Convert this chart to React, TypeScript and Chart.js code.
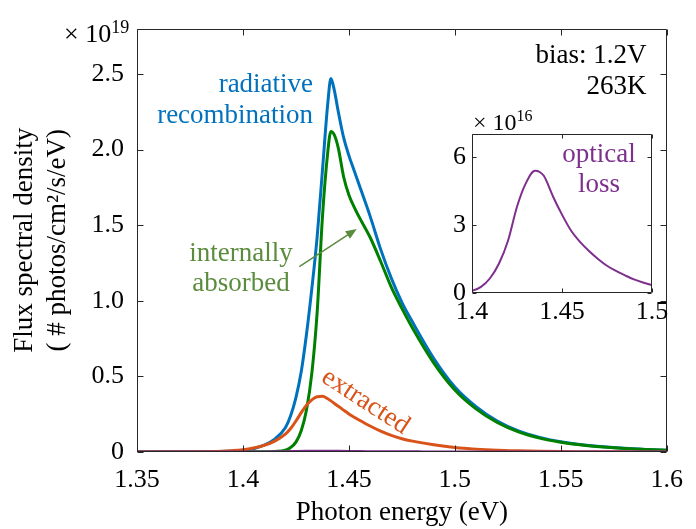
import React, { useEffect, useRef } from "react";
import { Chart, registerables } from "chart.js";

Chart.register(...registerables);

const FONT = "'Liberation Serif'";
const AXIS = "#262626";

// ---------- data (main plot, ×10^19 photons/cm²/s/eV) ----------
const energy = [
  1.35, 1.37, 1.39, 1.4, 1.405, 1.41, 1.415, 1.42, 1.4225, 1.425, 1.4275, 1.43,
  1.4325, 1.435, 1.4375, 1.44, 1.4415, 1.443, 1.445, 1.4475, 1.45, 1.4525, 1.455,
  1.46, 1.465, 1.47, 1.475, 1.48, 1.49, 1.5, 1.51, 1.52, 1.53, 1.54, 1.55, 1.56,
  1.57, 1.58, 1.59, 1.6,
];
const radiative = [
  0.0, 0.001, 0.004, 0.01, 0.022, 0.045, 0.085, 0.16, 0.24, 0.36, 0.53, 0.78,
  1.08, 1.42, 1.86, 2.3, 2.47, 2.4, 2.25, 2.08, 1.96, 1.86, 1.76,
  1.56, 1.34, 1.15, 0.99, 0.86, 0.62, 0.43, 0.3, 0.205, 0.14, 0.097, 0.068, 0.048,
  0.034, 0.024, 0.017, 0.012,
];
const absorbed = [
  0.0, 0.0, 0.0, 0.0, 0.001, 0.002, 0.004, 0.012, 0.03, 0.065, 0.14, 0.28,
  0.52, 0.92, 1.55, 1.98, 2.12, 2.1, 2.01, 1.82, 1.7, 1.62, 1.55,
  1.42, 1.26, 1.09, 0.95, 0.82, 0.59, 0.41, 0.285, 0.195, 0.133, 0.092, 0.065, 0.046,
  0.033, 0.023, 0.016, 0.011,
];
const extracted = [
  0.0, 0.001, 0.005, 0.015, 0.026, 0.044, 0.072, 0.118, 0.155, 0.205, 0.26, 0.31,
  0.345, 0.366, 0.368, 0.352, 0.338, 0.323, 0.303, 0.277, 0.252, 0.23, 0.21,
  0.172, 0.138, 0.11, 0.088, 0.072, 0.048, 0.03, 0.019, 0.012, 0.008, 0.005, 0.003, 0.002,
  0.001, 0.001, 0.0, 0.0,
];

// ---------- data (optical loss, ×10^16) ----------
const lossEnergy = [
  1.35, 1.38, 1.39, 1.4, 1.405, 1.41, 1.415, 1.42, 1.425, 1.43, 1.435, 1.4375,
  1.44, 1.445, 1.45, 1.455, 1.46, 1.465, 1.47, 1.475, 1.48, 1.485, 1.49, 1.495,
  1.5, 1.52, 1.55, 1.6,
];
const opticalLoss = [
  0.0, 0.02, 0.05, 0.1, 0.27, 0.65, 1.3, 2.3, 3.8, 4.85, 5.38, 5.33,
  5.15, 4.25, 3.45, 2.75, 2.25, 1.85, 1.5, 1.2, 0.97, 0.78, 0.6, 0.46,
  0.35, 0.15, 0.05, 0.01,
];

// ---------- ticks ----------
const xTicks = [1.35, 1.4, 1.45, 1.5, 1.55, 1.6];
const xTickLabels = ["1.35", "1.4", "1.45", "1.5", "1.55", "1.6"];
const yTicks = [0, 0.5, 1.0, 1.5, 2.0, 2.5];
const yTickLabels = ["0", "0.5", "1.0", "1.5", "2.0", "2.5"];
const insetXTicks = [1.4, 1.45, 1.5];
const insetXTickLabels = ["1.4", "1.45", "1.5"];
const insetYTicks = [0, 3, 6];
const insetYTickLabels = ["0", "3", "6"];

const COLORS = {
  radiative: "#0072BD",
  absorbed: "#008000",
  absorbedText: "#5B8C3E",
  extracted: "#D95319",
  loss: "#7E2F8E",
};

function pts(xs: number[], ys: number[], k = 1) {
  return xs.map((x, i) => ({ x, y: ys[i] * k }));
}

function framePlugin(xt: number[], yt: number[], tickLen: number) {
  return {
    id: "frame",
    afterDatasetsDraw(chart: any) {
      const { ctx, chartArea: a, scales } = chart;
      ctx.save();
      ctx.strokeStyle = AXIS;
      ctx.lineWidth = 1;
      const L = Math.round(a.left) + 0.5;
      const R = Math.round(a.right) - 0.5;
      const T = Math.round(a.top) + 0.5;
      const B = Math.round(a.bottom) - 0.5;
      ctx.beginPath();
      ctx.rect(L, T, R - L, B - T);
      for (const v of xt) {
        const px = Math.round(scales.x.getPixelForValue(v)) + 0.5;
        ctx.moveTo(px, B);
        ctx.lineTo(px, B - tickLen);
        ctx.moveTo(px, T);
        ctx.lineTo(px, T + tickLen);
      }
      for (const v of yt) {
        const py = Math.round(scales.y.getPixelForValue(v)) + 0.5;
        ctx.moveTo(L, py);
        ctx.lineTo(L + tickLen, py);
        ctx.moveTo(R, py);
        ctx.lineTo(R - tickLen, py);
      }
      ctx.stroke();
      ctx.restore();
    },
  };
}

function drawExponent(ctx: CanvasRenderingContext2D, x: number, y: number, exp: string, size: number) {
  ctx.save();
  ctx.fillStyle = "#000";
  ctx.textBaseline = "middle";
  ctx.textAlign = "left";
  ctx.font = `${size}px ${FONT}`;
  ctx.fillText("×", x, y);
  let cx = x + ctx.measureText("× ").width;
  ctx.fillText("10", cx, y);
  cx += ctx.measureText("10").width;
  ctx.font = `${Math.round(size * 0.68)}px ${FONT}`;
  ctx.fillText(exp, cx, y - size * 0.3);
  ctx.restore();
}

const mainAnnotations = {
  id: "mainAnnotations",
  afterDraw(chart: any) {
    const { ctx, chartArea: a, scales } = chart;
    const X = (v: number) => scales.x.getPixelForValue(v);
    const Y = (v: number) => scales.y.getPixelForValue(v);
    drawExponent(ctx, a.left - 73, a.top + 7, "19", 26);
    ctx.save();
    ctx.textBaseline = "middle";
    ctx.font = `27px ${FONT}`;
    ctx.fillStyle = "#000";
    ctx.textAlign = "right";
    ctx.fillText("bias: 1.2V", X(1.5904), Y(2.618));
    ctx.fillText("263K", X(1.5904), Y(2.414));
    ctx.fillStyle = COLORS.radiative;
    ctx.fillText("radiative", X(1.4331), Y(2.427));
    ctx.fillText("recombination", X(1.4331), Y(2.222));
    ctx.fillStyle = COLORS.absorbedText;
    ctx.textAlign = "center";
    ctx.fillText("internally", X(1.3991), Y(1.309));
    ctx.fillText("absorbed", X(1.3991), Y(1.111));
    const x0 = X(1.4266), y0 = Y(1.226), x1 = X(1.4537), y1 = Y(1.475);
    const ang = Math.atan2(y1 - y0, x1 - x0);
    ctx.strokeStyle = COLORS.absorbedText;
    ctx.lineWidth = 1.5;
    ctx.beginPath();
    ctx.moveTo(x0, y0);
    ctx.lineTo(x1 - 8 * Math.cos(ang), y1 - 8 * Math.sin(ang));
    ctx.stroke();
    ctx.beginPath();
    ctx.moveTo(x1, y1);
    ctx.lineTo(x1 - 11 * Math.cos(ang) + 4.5 * Math.sin(ang), y1 - 11 * Math.sin(ang) - 4.5 * Math.cos(ang));
    ctx.lineTo(x1 - 11 * Math.cos(ang) - 4.5 * Math.sin(ang), y1 - 11 * Math.sin(ang) + 4.5 * Math.cos(ang));
    ctx.closePath();
    ctx.fillStyle = COLORS.absorbedText;
    ctx.fill();
    ctx.save();
    ctx.translate(X(1.4578), Y(0.332));
    ctx.rotate((33 * Math.PI) / 180);
    ctx.fillStyle = COLORS.extracted;
    ctx.textAlign = "center";
    ctx.fillText("extracted", 0, 0);
    ctx.restore();
    ctx.restore();
  },
};

const insetAnnotations = {
  id: "insetAnnotations",
  afterDraw(chart: any) {
    const { ctx, chartArea: a, scales } = chart;
    const X = (v: number) => scales.x.getPixelForValue(v);
    const Y = (v: number) => scales.y.getPixelForValue(v);
    drawExponent(ctx, a.left + 1, a.top - 10, "16", 24);
    ctx.save();
    ctx.textBaseline = "middle";
    ctx.textAlign = "center";
    ctx.font = `27px ${FONT}`;
    ctx.fillStyle = COLORS.loss;
    ctx.fillText("optical", X(1.4706), Y(6.09));
    ctx.fillText("loss", X(1.4706), Y(4.78));
    ctx.restore();
  },
};

function tickFont(size: number) {
  return { family: FONT, size };
}

export default function App() {
  const mainRef = useRef<HTMLCanvasElement | null>(null);
  const insetRef = useRef<HTMLCanvasElement | null>(null);

  useEffect(() => {
    if (!mainRef.current || !insetRef.current) return;
    Chart.defaults.font.family = FONT;
    const main = new Chart(mainRef.current, {
      type: "line",
      data: {
        datasets: [
          { label: "optical loss", data: pts(lossEnergy, opticalLoss, 0.001), borderColor: COLORS.loss, borderWidth: 3 },
          { label: "extracted", data: pts(energy, extracted), borderColor: COLORS.extracted, borderWidth: 3 },
          { label: "internally absorbed", data: pts(energy, absorbed), borderColor: COLORS.absorbed, borderWidth: 3 },
          { label: "radiative recombination", data: pts(energy, radiative), borderColor: COLORS.radiative, borderWidth: 3 },
        ] as any,
      },
      options: {
        animation: false,
        responsive: false,
        devicePixelRatio: 1,
        parsing: false as any,
        elements: { point: { radius: 0 }, line: { cubicInterpolationMode: "monotone", fill: false } },
        layout: { padding: { left: 0, right: 14, top: 13, bottom: 0 } },
        plugins: { legend: { display: false }, tooltip: { enabled: false } },
        scales: {
          x: {
            type: "linear",
            min: 1.35,
            max: 1.6,
            grid: { display: false, drawTicks: false },
            border: { display: false },
            afterBuildTicks: (s: any) => { s.ticks = xTicks.map((v) => ({ value: v })); },
            afterFit: (s: any) => { s.height = 77; },
            ticks: {
              font: tickFont(26),
              color: "#000",
              padding: 13,
              maxRotation: 0,
              autoSkip: false,
              callback: (_v: any, i: number) => xTickLabels[i],
            },
            title: {
              display: true,
              text: "Photon energy (eV)",
              font: { family: FONT, size: 27 },
              color: "#000",
              padding: { top: 0, bottom: 0 },
            },
          },
          y: {
            type: "linear",
            min: 0,
            max: 2.8,
            grid: { display: false, drawTicks: false },
            border: { display: false },
            afterBuildTicks: (s: any) => { s.ticks = yTicks.map((v) => ({ value: v })); },
            afterFit: (s: any) => { s.width = 137; },
            ticks: {
              font: tickFont(26),
              color: "#000",
              padding: 13,
              autoSkip: false,
              callback: (_v: any, i: number) => yTickLabels[i],
            },
            title: {
              display: true,
              text: ["Flux spectral density", "( # photos/cm²/s/eV)"],
              font: { family: FONT, size: 27, lineHeight: 1.2 },
              color: "#000",
              padding: { top: 9, bottom: 0 },
            },
          },
        },
      } as any,
      plugins: [framePlugin(xTicks, yTicks, 6), mainAnnotations],
    });

    const inset = new Chart(insetRef.current, {
      type: "line",
      data: {
        datasets: [
          { label: "optical loss", data: pts(lossEnergy, opticalLoss), borderColor: COLORS.loss, borderWidth: 2 },
        ] as any,
      },
      options: {
        animation: false,
        responsive: false,
        devicePixelRatio: 1,
        parsing: false as any,
        elements: { point: { radius: 0 }, line: { cubicInterpolationMode: "monotone", fill: false } },
        layout: { padding: { left: 0, right: 28, top: 34, bottom: 0 } },
        plugins: { legend: { display: false }, tooltip: { enabled: false } },
        scales: {
          x: {
            type: "linear",
            min: 1.4,
            max: 1.5,
            grid: { display: false, drawTicks: false },
            border: { display: false },
            afterBuildTicks: (s: any) => { s.ticks = insetXTicks.map((v) => ({ value: v })); },
            afterFit: (s: any) => { s.height = 47; },
            ticks: {
              font: tickFont(26),
              color: "#000",
              padding: 4,
              maxRotation: 0,
              autoSkip: false,
              callback: (_v: any, i: number) => insetXTickLabels[i],
            },
          },
          y: {
            type: "linear",
            min: 0,
            max: 7,
            grid: { display: false, drawTicks: false },
            border: { display: false },
            afterBuildTicks: (s: any) => { s.ticks = insetYTicks.map((v) => ({ value: v })); },
            afterFit: (s: any) => { s.width = 52; },
            ticks: {
              font: tickFont(26),
              color: "#000",
              padding: 6,
              autoSkip: false,
              callback: (_v: any, i: number) => insetYTickLabels[i],
            },
          },
        },
      } as any,
      plugins: [framePlugin(insetXTicks, insetYTicks, 4), insetAnnotations],
    });

    const redraw = () => {
      main.update();
      inset.update();
    };
    const fonts: any = (document as any).fonts;
    if (fonts && fonts.ready) fonts.ready.then(redraw).catch(() => {});
    const timers = [20, 100, 250, 500, 900].map((ms) => setTimeout(redraw, ms));

    return () => {
      timers.forEach(clearTimeout);
      main.destroy();
      inset.destroy();
    };
  }, []);

  return (
    <div style={{ position: "relative", width: 696, height: 529, margin: "-8px 0 0 -8px", fontFamily: FONT }}>
      <div style={{ position: "absolute", left: 0, top: 0, fontFamily: FONT, fontSize: 26, color: "#000", lineHeight: "30px" }}>
        Photon energy 1.45
      </div>
      <canvas ref={mainRef} width={696} height={529} style={{ position: "absolute", left: 0, top: 0, width: 696, height: 529, background: "#fff" }} />
      <canvas ref={insetRef} width={260} height={240} style={{ position: "absolute", left: 420, top: 100, width: 260, height: 240 }} />
    </div>
  );
}
